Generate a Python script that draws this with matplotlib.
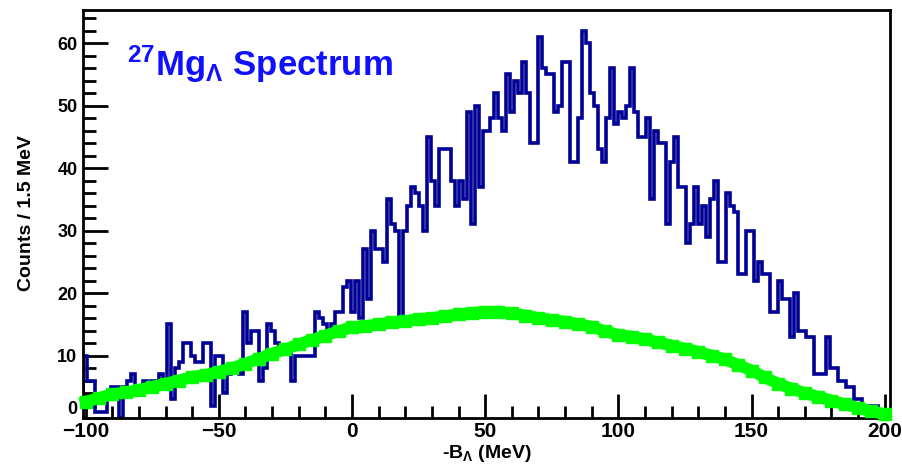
import matplotlib
matplotlib.use('Agg')
import matplotlib.pyplot as plt
import numpy as np

# histogram: 1.5 MeV bins starting at -101 MeV
bin_lo = -101.0
bin_w = 1.5
counts = [
    10, 6, 6, 1, 1, 1, 3, 5, 5, 0,
    5, 6, 7, 5, 5, 6, 5, 6, 6, 7,
    6, 15, 3, 8, 9, 12, 12, 10, 9, 9,
    12, 12, 2, 10, 10, 4, 7, 8, 8, 7,
    17, 12, 14, 14, 6, 8, 15, 14, 12, 11,
    11, 11, 6, 10, 10, 10, 10, 10, 17, 16,
    15, 14, 15, 17, 17, 21, 22, 17, 22, 16,
    27, 19, 30, 27, 27, 25, 35, 31, 30, 16,
    30, 34, 37, 36, 34, 30, 45, 38, 34, 43,
    43, 43, 38, 34, 38, 35, 49, 31, 50, 37,
    46, 46, 48, 52, 48, 46, 55, 49, 54, 52,
    57, 52, 44, 44, 61, 56, 55, 55, 49, 50,
    57, 57, 41, 41, 48, 62, 60, 52, 50, 43,
    41, 48, 56, 47, 49, 48, 50, 56, 49, 45,
    45, 48, 35, 46, 44, 44, 31, 41, 45, 37,
    37, 28, 31, 37, 31, 34, 29, 35, 38, 25,
    25, 36, 34, 33, 23, 23, 30, 30, 22, 25,
    23, 23, 17, 17, 22, 19, 19, 13, 20, 14,
    14, 13, 13, 7, 7, 7, 13, 8, 8, 6,
    6, 5, 5, 3, 3, 2, 2, 2, 2, 0,
    0, 0,
]

# accidental background (green band)
bg_x = [-100, -95, -90, -85, -80, -75, -70, -65, -60, -55, -50, -45, -40,
        -35, -30, -25, -20, -15, -10, -5, 0, 5, 10, 15, 20, 25, 30, 35, 40,
        45, 50, 55, 60, 65, 70, 75, 80, 85, 90, 95, 100, 105, 110, 115, 120,
        125, 130, 135, 140, 145, 150, 155, 160, 165, 170, 175, 180, 185, 190,
        195, 200]
bg_y = [2.6, 3.2, 3.8, 4.1, 4.5, 5.0, 5.5, 6.0, 6.6, 6.9, 7.4, 8.0, 8.7,
        9.5, 10.3, 11.0, 11.8, 12.5, 13.2, 13.9, 14.5, 14.7, 15.0, 15.3, 15.5,
        15.8, 16.0, 16.3, 16.6, 16.8, 17.0, 16.9, 16.8, 16.4, 16.0, 15.7, 15.4,
        15.0, 14.6, 13.9, 13.3, 13.0, 12.6, 12.1, 11.6, 11.1, 10.6, 10.0, 9.4,
        8.5, 7.6, 6.5, 5.5, 4.7, 4.0, 3.4, 2.8, 2.2, 1.6, 1.1, 0.6]

hist_color = '#000096'
bg_color = '#00ff00'

plt.rcParams['font.family'] = ['Liberation Sans', 'DejaVu Sans']
plt.rcParams['font.weight'] = 'bold'
plt.rcParams['mathtext.fontset'] = 'custom'
plt.rcParams['mathtext.rm'] = 'Liberation Sans:bold'
plt.rcParams['mathtext.it'] = 'Liberation Sans:bold'
plt.rcParams['mathtext.bf'] = 'Liberation Sans:bold'

W, H = 903, 465
fig = plt.figure(figsize=(W / 100, H / 100), dpi=100)
ax = fig.add_axes([83 / W, 1 - 418 / H, (890 - 83) / W, (418 - 10) / H])

edges = bin_lo + bin_w * np.arange(len(counts) + 1)
ax.stairs(counts, edges, color=hist_color, lw=2.6, zorder=2)

ax.plot(bg_x, bg_y, color=bg_color, lw=8.5, marker='s', ms=8,
        markeredgecolor=bg_color, zorder=3, clip_on=False)

ax.set_xlim(-101, 202)
ax.set_ylim(0, 65.3)

ax.set_xticks([-100, -50, 0, 50, 100, 150, 200])
ax.set_xticks(np.arange(-100, 201, 10), minor=True)
ax.set_yticks([0, 10, 20, 30, 40, 50, 60])
ax.set_yticks(np.arange(0, 65, 2), minor=True)

ax.tick_params(axis='both', which='both', direction='in', width=2,
               color='black', top=False, right=False)
ax.tick_params(axis='x', which='major', length=17, labelsize=15, pad=3)
ax.tick_params(axis='x', which='minor', length=9)
ax.tick_params(axis='y', which='major', length=18, labelsize=13, pad=4)
ax.tick_params(axis='y', which='minor', length=9)
for s in ax.spines.values():
    s.set_linewidth(2)

# lift the "0" so it clears the -100 label
ax.get_yticklabels()[0].set_va('bottom')

# title
fig.text(127 / W, 1 - 76 / H, r'$^{27}$Mg$_{\Lambda}$ Spectrum', color='#1010ff',
         fontsize=25, fontweight='bold', ha='left', va='baseline')

fig.text(27 / W, 1 - 213 / H, 'Counts / 1.5 MeV', rotation=90,
         fontsize=14, fontweight='bold', ha='center', va='center')
fig.text(487 / W, 1 - 464 / H, r'-B$_{\Lambda}$ (MeV)', fontsize=14,
         fontweight='bold', ha='center', va='bottom')

fig.savefig('out.png', dpi=100)
